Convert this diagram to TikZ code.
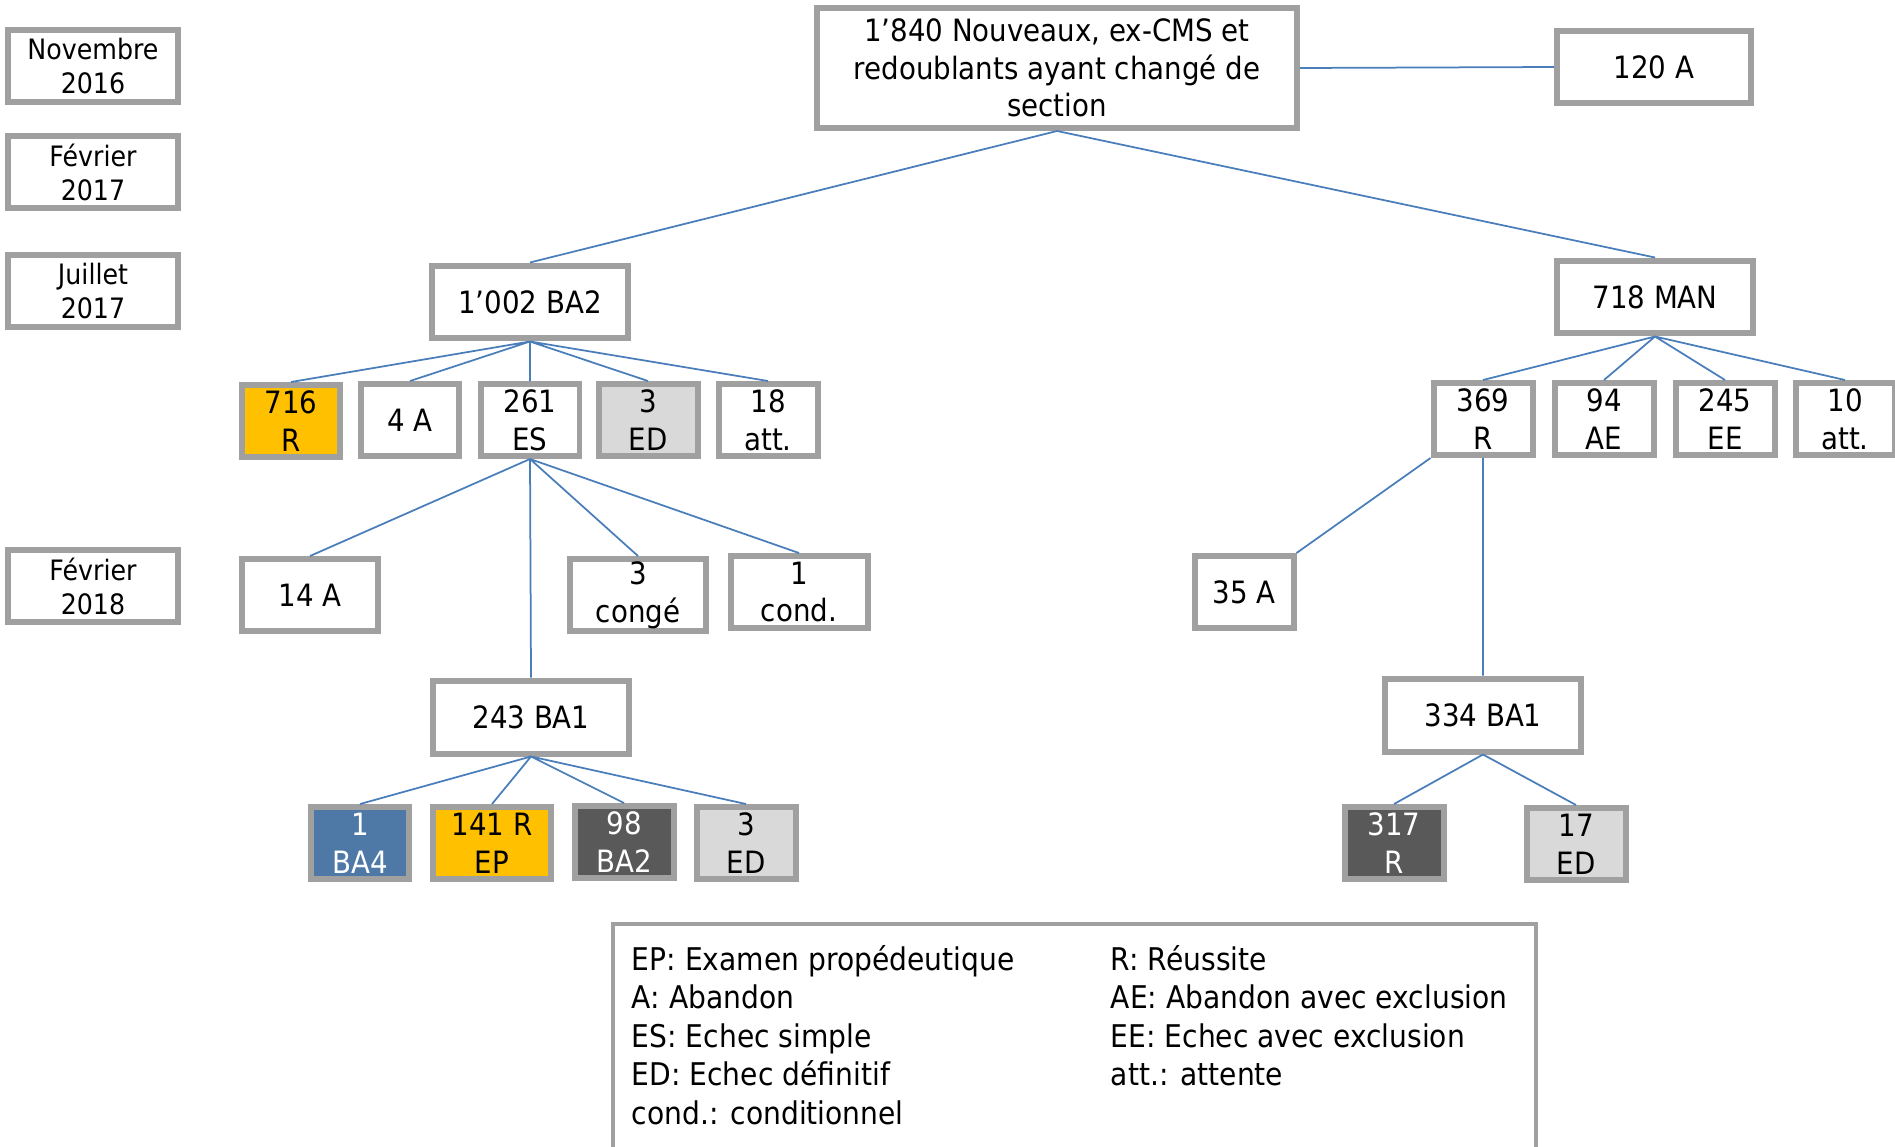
\documentclass[tikz,border=0pt]{standalone}
\usepackage{fontspec}
\setmainfont{DejaVu Sans}[FakeStretch=0.9]
\usetikzlibrary{positioning}
\definecolor{boxgray}{HTML}{A0A0A0}
\definecolor{linkblue}{HTML}{4A7EBB}
\definecolor{passorange}{HTML}{FFC000}
\definecolor{ba4blue}{HTML}{4E79A7}
\definecolor{darkfill}{HTML}{595959}
\definecolor{lightfill}{HTML}{D9D9D9}
\tikzset{
box/.style={draw=boxgray, line width=0.12cm, fill=white, inner sep=0pt, align=center, font=\fontsize{17.5}{21.5}\selectfont},
datebox/.style={box, minimum width=3.4cm, minimum height=1.44cm, font=\fontsize{16}{19.3}\selectfont},
smallbox/.style={box, minimum width=1.98cm, minimum height=1.44cm},
widebox/.style={box, minimum width=2.74cm, minimum height=1.44cm},
midbox/.style={box, minimum width=3.92cm, minimum height=1.46cm},
link/.style={draw=linkblue, line width=0.035cm}
}
\begin{document}
\begin{tikzpicture}[x=0.02cm, y=-0.02cm]
\useasboundingbox (0,0) rectangle (1895,1146);
\node[datebox] (nov16) at (93,66) {Novembre\\2016};
\node[datebox] (feb17) at (93,172) {Février\\2017};
\node[datebox] (jul17) at (93,291) {Juillet\\2017};
\node[datebox] (feb18) at (93,586) {Février\\2018};
\node[box, minimum width=9.6cm, minimum height=2.4cm] (start) at (1057,68)
{1’840 Nouveaux, ex-CMS et\\redoublants ayant changé de\\section};
\node[box, minimum width=3.88cm, minimum height=1.44cm] (drop) at (1654,67) {120 A};
\node[midbox] (ba2) at (530,302) {1’002 BA2};
\node[midbox] (man) at (1655,297) {718 MAN};
\node[smallbox, fill=passorange] (ba2r) at (291,421) {716\\R};
\node[smallbox] (ba2a) at (410,420) {4 A};
\node[smallbox] (ba2es) at (530,420) {261\\ES};
\node[smallbox, fill=lightfill] (ba2ed) at (648,420) {3\\ED};
\node[smallbox] (ba2att) at (768,420) {18\\att.};
\node[smallbox] (manr) at (1483,419) {369\\R};
\node[smallbox] (manae) at (1604,419) {94\\AE};
\node[smallbox] (manee) at (1725,419) {245\\EE};
\node[smallbox] (manatt) at (1845,419) {10\\att.};
\node[widebox] (esa) at (310,595) {14 A};
\node[widebox] (esconge) at (638,595) {3\\congé};
\node[widebox] (escond) at (799,592) {1\\cond.};
\node[smallbox] (manra) at (1244,592) {35 A};
\node[midbox] (ba1) at (531,717) {243 BA1};
\node[midbox] (manba1) at (1483,715) {334 BA1};
\node[smallbox, fill=ba4blue, text=white] (ba1ba4) at (360,843) {1\\BA4};
\node[box, minimum width=2.36cm, minimum height=1.44cm, fill=passorange] (ba1r) at (492,843) {141 R\\EP};
\node[smallbox, fill=darkfill, text=white] (ba1ba2) at (624,842) {98\\BA2};
\node[smallbox, fill=lightfill] (ba1ed) at (746,843) {3\\ED};
\node[smallbox, fill=darkfill, text=white] (manba1r) at (1394,843) {317\\R};
\node[smallbox, fill=lightfill] (manba1ed) at (1576,844) {17\\ED};
\node[draw=boxgray, line width=0.08cm, minimum width=18.46cm, minimum height=5cm, inner sep=0pt, anchor=north west] (legend) at (611,922) {};
\node[inner sep=0pt, anchor=north west, font=\fontsize{17.8}{21.9}\selectfont, below right=0.42cm and 0.41cm of legend.north west] (legtext)
{\begin{tabular}{@{}p{9.58cm}@{}l@{}}
EP: Examen propédeutique & R: Réussite\\
A: Abandon & AE: Abandon avec exclusion\\
ES: Echec simple & EE: Echec avec exclusion\\
ED: Echec définitif & att.: attente\\
cond.: conditionnel &
\end{tabular}};
\draw[link] (start.east)--(drop.west) (start.south)--(ba2.north) (start.south)--(man.north);
\draw[link] (ba2.south)--(ba2r.north) (ba2.south)--(ba2a.north) (ba2.south)--(ba2es.north)
(ba2.south)--(ba2ed.north) (ba2.south)--(ba2att.north);
\draw[link] (man.south)--(manr.north) (man.south)--(manae.north) (man.south)--(manee.north)
(man.south)--(manatt.north);
\draw[link] (ba2es.south)--(esa.north) (ba2es.south)--(esconge.north) (ba2es.south)--(escond.north)
(ba2es.south)--(ba1.north);
\draw[link] (manr.south west)--(manra.north east) (manr.south)--(manba1.north);
\draw[link] (ba1.south)--(ba1ba4.north) (ba1.south)--(ba1r.north) (ba1.south)--(ba1ba2.north)
(ba1.south)--(ba1ed.north);
\draw[link] (manba1.south)--(manba1r.north) (manba1.south)--(manba1ed.north);
\end{tikzpicture}
\end{document}
